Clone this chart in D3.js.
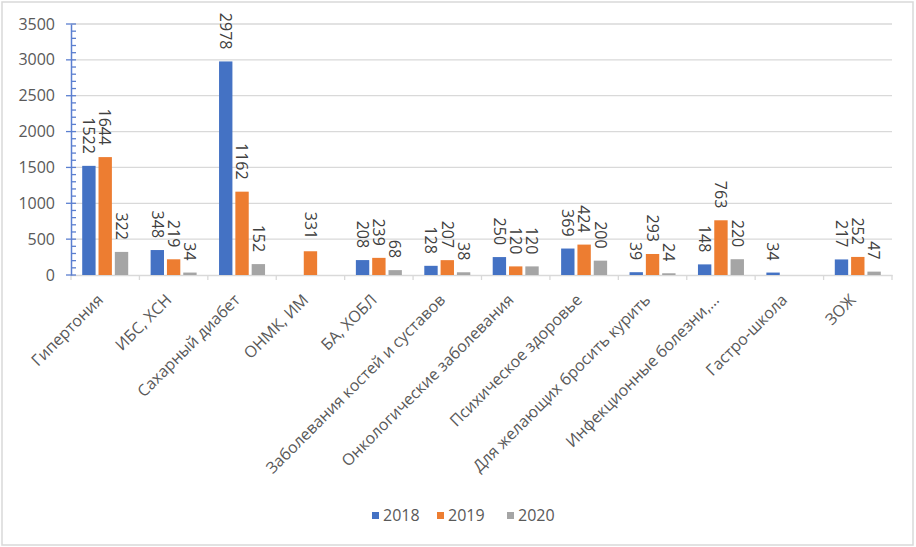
<!DOCTYPE html>
<html><head><meta charset="utf-8">
<script src="https://cdn.jsdelivr.net/npm/d3@7"></script>
<style>body{margin:0;background:#fff}svg{display:block;font-family:"Open Sans",sans-serif}</style>
</head><body><svg id="c" width="916" height="547"></svg>
<script>
const categories = ["Гипертония","ИБС, ХСН","Сахарный диабет","ОНМК, ИМ","БА, ХОБЛ","Заболевания костей и суставов","Онкологические заболевания","Психическое здоровье","Для желающих бросить курить","Инфекционные болезни,…","Гастро-школа","ЗОЖ"];
const seriesNames = ["2018","2019","2020"];
const s2018 = [1522,348,2978,null,208,128,250,369,39,148,34,217];
const s2019 = [1644,219,1162,331,239,207,120,424,293,763,null,252];
const s2020 = [322,34,152,null,68,38,120,200,24,220,null,47];
const yTicks = [0,500,1000,1500,2000,2500,3000,3500];
const colors = ["#4472C4","#ED7D31","#A5A5A5"];
const seriesVals = [s2018,s2019,s2020];

const svg = d3.select("#c");
const L = 71, R = 892, T = 24, B = 275;
svg.append("rect").attr("x",2).attr("y",2).attr("width",911).attr("height",543).attr("fill","#fff").attr("stroke","#d9d9d9").attr("stroke-width",1.5);

const x = d3.scaleBand().domain(categories).range([L,R]).paddingInner(0).paddingOuter(0);
const y = d3.scaleLinear().domain([0,3500]).range([B,T]);
const xs = d3.scaleBand().domain(seriesNames).range([-23,23]).paddingInner(0.18);

// gridlines
svg.append("g").selectAll("line").data(yTicks.slice(1)).join("line")
  .attr("x1",L).attr("x2",R).attr("y1",d=>y(d)).attr("y2",d=>y(d))
  .attr("stroke","#d9d9d9").attr("stroke-width",1.3);

// x axis
const xa = svg.append("g").attr("transform",`translate(0,${B})`)
  .call(d3.axisBottom(x).tickSize(0).tickFormat(""));
xa.select(".domain").attr("stroke","#d9d9d9").attr("stroke-width",1.3);
svg.append("g").selectAll("line").data(d3.range(categories.length+1)).join("line")
  .attr("x1",i=>L+i*x.step()).attr("x2",i=>L+i*x.step()).attr("y1",B).attr("y2",B+5)
  .attr("stroke","#d9d9d9").attr("stroke-width",1.3);

// bars
const groups = svg.append("g").selectAll("g").data(categories).join("g")
  .attr("transform",d=>`translate(${x(d)+x.bandwidth()/2},0)`);
seriesNames.forEach((s,si)=>{
  groups.filter((d,i)=>seriesVals[si][i]!=null).append("rect")
    .attr("x",xs(s)).attr("width",xs.bandwidth())
    .attr("y",(d)=>y(seriesVals[si][categories.indexOf(d)]))
    .attr("height",(d)=>B-y(seriesVals[si][categories.indexOf(d)]))
    .attr("fill",colors[si]);
});
// labels
seriesNames.forEach((s,si)=>{
  groups.filter((d,i)=>seriesVals[si][i]!=null).append("text")
    .attr("transform",d=>`translate(${xs(s)+xs.bandwidth()/2},${y(seriesVals[si][categories.indexOf(d)])-12}) rotate(90)`)
    .attr("text-anchor","end").attr("dy","0.36em")
    .attr("font-size",16).attr("fill","#404040")
    .text(d=>seriesVals[si][categories.indexOf(d)]);
});

// y axis
const ya = svg.append("g").attr("transform",`translate(${L},0)`)
  .call(d3.axisLeft(y).tickValues(yTicks).tickFormat(d3.format("d")).tickSize(0).tickPadding(16));
ya.select(".domain").attr("stroke","#5b7fd0").attr("stroke-width",1.5);
ya.selectAll("text").attr("font-size",16).attr("fill","#595959").attr("font-family","Open Sans");
const minor = d3.range(0,3501,100);
svg.append("g").selectAll("line").data(minor).join("line")
  .attr("x1",d=>d%500===0?L-5:L).attr("x2",L+5)
  .attr("y1",d=>y(d)).attr("y2",d=>y(d))
  .attr("stroke","#5b7fd0").attr("stroke-width",1.3);

// category labels
svg.append("g").selectAll("text").data(categories).join("text")
  .attr("transform",d=>`translate(${x(d)+x.bandwidth()/2-1},${B+26}) rotate(-45)`)
  .attr("text-anchor","end").attr("font-size",16).attr("fill","#595959")
  .text(d=>d);

// legend
const lg = svg.append("g");
const lx = [372,437,507];
seriesNames.forEach((s,i)=>{
  lg.append("rect").attr("x",lx[i]).attr("y",512).attr("width",7).attr("height",7).attr("fill",colors[i]);
  lg.append("text").attr("x",lx[i]+11).attr("y",515).attr("dy","0.35em").attr("font-size",16).attr("fill","#595959").text(s);
});
</script></body></html>
